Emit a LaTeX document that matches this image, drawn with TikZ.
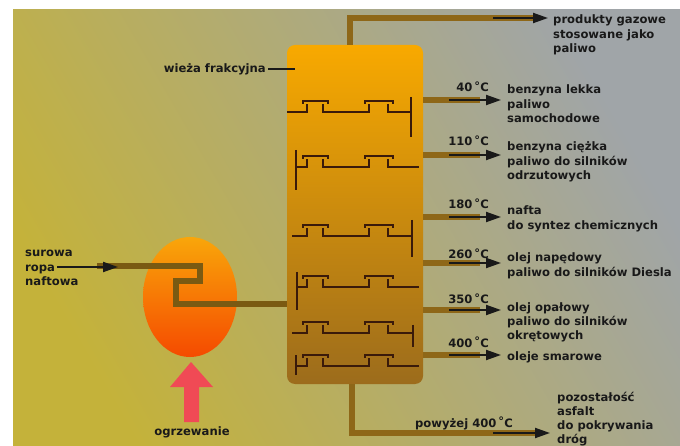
\documentclass[tikz,border=0pt]{standalone}
\usepackage{fontspec}
\setmainfont{DejaVu Sans}
\usetikzlibrary{shapes.geometric, arrows.meta}

\definecolor{bgyellow}{HTML}{C4B23A}
\definecolor{bggrey}{HTML}{A0A5A8}
\definecolor{towertop}{HTML}{F8A900}
\definecolor{towerbot}{HTML}{9C6C1C}
\definecolor{pipebrown}{HTML}{8E6718}
\definecolor{feedbrown}{HTML}{7A5A12}
\definecolor{trayline}{HTML}{3A1A0A}
\definecolor{heattop}{HTML}{F9A60A}
\definecolor{heatbot}{HTML}{F54A00}
\definecolor{flame}{HTML}{F04A55}

\newcommand{\stC}{\,\raisebox{1.5pt}{°}C}

\begin{document}
\begin{tikzpicture}[x=1pt, y=-1pt,
    txt/.style={font=\bfseries\fontsize{11.6}{14.3}\selectfont, text=black!90, align=left, inner sep=0pt},
    pipe/.style={pipebrown, line width=6pt},
    flow/.style={black!90, line width=2pt, -{Triangle[length=15pt, width=10pt]}},
    tray/.style={trayline, line width=2pt}]
    \useasboundingbox (0,0) rectangle (680,446);

    %% background
    \fill[white] (0,0) rectangle (680,446);
    \shade[bottom color=bgyellow, top color=bggrey, shading angle=-60] (13,10) rectangle (680,446);

    %% the column
    \node[rounded corners=8pt, minimum width=136pt, minimum height=339pt, inner sep=0pt,
          top color=towertop, bottom color=towerbot] (wieza) at (355,214.5) {};
    \node[txt, anchor=east] (wz) at (266,69) {wieża frakcyjna};
    \draw[black!90, line width=1.5pt] ([xshift=2pt]wz.east) -- ++(27,0);

    % trays: base y / base from / base to / downcomer x / downcomer top / bottom
    \foreach \yb/\xa/\xb/\xd/\ya/\yc in {112/287/411/411/97/137,
                                         167/296/419/296/150/190,
                                         236/292/412/412/220/257,
                                         287/297/419/297/272/310,
                                         333/292/413/413/325/347,
                                         366/296/419/296/355/375}
    {
        \draw[tray] (\xd,\ya) -- (\xd,\yc);
        \draw[tray] (\xa,\yb) -- (307,\yb) -- (307,\yb-8)
                    (323,\yb-8) -- (323,\yb) -- (369,\yb) -- (369,\yb-8)
                    (388,\yb-8) -- (388,\yb) -- (\xb,\yb);
        \draw[tray] (303,\yb-8) -- (303,\yb-11) -- (328,\yb-11) -- (328,\yb-8)
                    (365,\yb-8) -- (365,\yb-11) -- (393,\yb-11) -- (393,\yb-8);
    }

    %% gases off the top
    \draw[pipe] (wieza.north -| 350,0) -- (350,18) -- (533,18);
    \draw[flow] (493,18) -- (548,18);
    \node[txt, anchor=base west] (gaz) at (553,52.6) {produkty gazowe\\stosowane jako\\paliwo};

    %% side outlets (pipe y / temperature / label y)
    \foreach \y/\t/\yt in {100/40/92, 155/110/146, 217/180/209, 263/260/259, 310/350/304, 355/400/347}
    {
        \draw[pipe] (wieza.east |- 0,\y) -- (480,\y);
        \draw[flow] (449,\y) -- (501,\y);
        \node[txt, anchor=base east] (t\t) at (489,\yt) {\t\stC};
    }
    \node[txt, anchor=base west] (f1) at (507,122.6) {benzyna lekka\\paliwo\\samochodowe};
    \node[txt, anchor=base west] (f2) at (507,179.6) {benzyna ciężka\\paliwo do silników\\odrzutowych};
    \node[txt, anchor=base west] (f3) at (507,229.3) {nafta\\do syntez chemicznych};
    \node[txt, anchor=base west] (f4) at (507,276.3) {olej napędowy\\paliwo do silników Diesla};
    \node[txt, anchor=base west] (f5) at (507,339.6) {olej opałowy\\paliwo do silników\\okrętowych};
    \node[txt, anchor=base west] (f6) at (507,360) {oleje smarowe};

    %% residue at the bottom
    \draw[pipe] (wieza.south -| 352,0) -- (352,433) -- (537,433);
    \draw[flow] (493,433) -- (550,433);
    \node[txt, anchor=base east] (t500) at (513,427) {powyżej 400\stC};
    \node[txt, anchor=base west] (f7) at (557,443.9) {pozostałość\\asfalt\\do pokrywania\\dróg};

    %% furnace and feed
    \node[ellipse, minimum width=94pt, minimum height=120pt, inner sep=0pt,
          top color=heattop, bottom color=heatbot] (piec) at (190,297) {};
    \draw[pipe, feedbrown] (97,266) -- (200,266) -- (200,281) -- (176,281) -- (176,304)
        -- (wieza.west |- 0,304);
    \node[txt, anchor=base west] (ropa) at (25,285.6) {surowa\\ropa\\naftowa};
    \draw[flow] (57,267) -- (118,267);

    % heating arrow
    \fill[flame] (191,362) -- (213,387) -- (199,387) -- (199,422) -- (184,422)
        -- (184,387) -- (170,387) -- cycle;
    \node[txt] (ogrz) at (192,432) {ogrzewanie};
\end{tikzpicture}
\end{document}
